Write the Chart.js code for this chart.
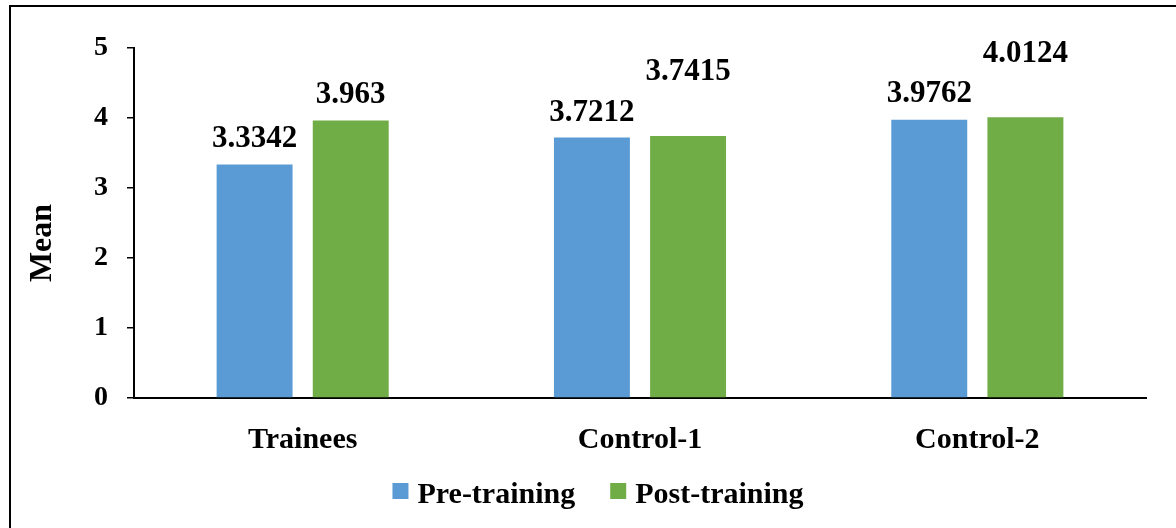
<!DOCTYPE html>
<html>
<head>
<meta charset="utf-8">
<script src="https://cdn.jsdelivr.net/npm/chart.js@4.4.0/dist/chart.umd.min.js"></script>
<style>
  html, body { margin: 0; padding: 0; background: #fff; }
  .wrap { position: relative; width: 1176px; height: 528px; overflow: hidden; }
  .frame { position: absolute; left: 9px; top: 5px; width: 1300px; height: 700px; border: 2px solid #000; }
  canvas { position: absolute; left: 0; top: 0; }
</style>
</head>
<body>
<div class="wrap">
  <div class="frame"></div>
  <canvas id="chart" width="1176" height="528"></canvas>
</div>
<script>
const groups = ['Trainees', 'Control-1', 'Control-2'];
const preTraining = [3.3342, 3.7212, 3.9762];
const postTraining = [3.963, 3.7415, 4.0124];
const preLabels = ['3.3342', '3.7212', '3.9762'];
const postLabels = ['3.963', '3.7415', '4.0124'];
const yTitle = 'Mean';

// gap in px between bar top and its value label (Excel labels were nudged by hand)
const labelGap = [[18, 17, 18], [18, 56, 55]];
const labelText = [preLabels, postLabels];

const serif = '"Liberation Serif", "Times New Roman", serif';

const valueLabels = {
    id: 'valueLabels',
    afterDatasetsDraw(chart) {
        const c = chart.ctx;
        c.save();
        c.font = 'bold 31px ' + serif;
        c.fillStyle = '#000';
        c.textAlign = 'center';
        c.textBaseline = 'alphabetic';
        chart.data.datasets.forEach((ds, i) => {
            chart.getDatasetMeta(i).data.forEach((bar, j) => {
                c.fillText(labelText[i][j], bar.x, bar.y - labelGap[i][j]);
            });
        });
        c.restore();
    }
};

// axis title + legend drawn by hand so spacing matches the Excel look
const extras = {
    id: 'extras',
    afterDraw(chart) {
        const c = chart.ctx;
        const area = chart.chartArea;
        c.save();
        c.fillStyle = '#000';

        // y title
        c.font = 'bold 32px ' + serif;
        c.translate(51, (area.top + area.bottom) / 2 + 20);
        c.rotate(-Math.PI / 2);
        c.textAlign = 'center';
        c.textBaseline = 'alphabetic';
        c.fillText(yTitle, 0, 0);
        c.setTransform(1, 0, 0, 1, 0, 0);

        // legend
        c.font = 'bold 30px ' + serif;
        const box = 16, gap = 9, itemGap = 35;
        const items = chart.data.datasets.map(ds => ({
            text: ds.label, color: ds.backgroundColor, w: c.measureText(ds.label).width
        }));
        let total = 0;
        items.forEach((it, k) => { total += box + gap + it.w + (k ? itemGap : 0); });
        let x = 598 - total / 2;
        const base = 503;
        items.forEach(it => {
            c.fillStyle = it.color;
            c.fillRect(x, base - 20, box, box);
            c.fillStyle = '#000';
            c.textAlign = 'left';
            c.fillText(it.text, x + box + gap, base);
            x += box + gap + it.w + itemGap;
        });
        c.restore();
    }
};

new Chart(document.getElementById('chart'), {
    type: 'bar',
    data: {
        labels: groups,
        datasets: [{
            label: 'Pre-training',
            data: preTraining,
            backgroundColor: '#5B9BD5',
            barPercentage: 0.79,
            categoryPercentage: 0.57
        },
        {
            label: 'Post-training',
            data: postTraining,
            backgroundColor: '#70AD47',
            barPercentage: 0.79,
            categoryPercentage: 0.57
        }]
    },
    options: {
        responsive: false,
        animation: false,
        layout: {
            padding: { left: 0, right: 30, top: 48, bottom: 62 }
        },
        scales: {
            x: {
                grid: { display: false },
                border: { display: true, color: '#000', width: 2 },
                ticks: {
                    color: '#000',
                    padding: 16,
                    font: { family: serif, size: 30, weight: 'bold' }
                },
                afterFit(scale) { scale.height = 68; }
            },
            y: {
                min: 0,
                max: 5,
                ticks: {
                    stepSize: 1,
                    color: '#000',
                    padding: 19,
                    font: { family: serif, size: 28, weight: 'bold' }
                },
                grid: {
                    display: true,
                    drawOnChartArea: false,
                    drawTicks: true,
                    tickLength: 7,
                    color: '#000',
                    lineWidth: 1.5
                },
                border: { display: true, color: '#000', width: 2 },
                afterFit(scale) { scale.width = 134; }
            }
        },
        plugins: {
            legend: { display: false },
            tooltip: { enabled: false }
        }
    },
    plugins: [valueLabels, extras]
});
</script>
</body>
</html>
